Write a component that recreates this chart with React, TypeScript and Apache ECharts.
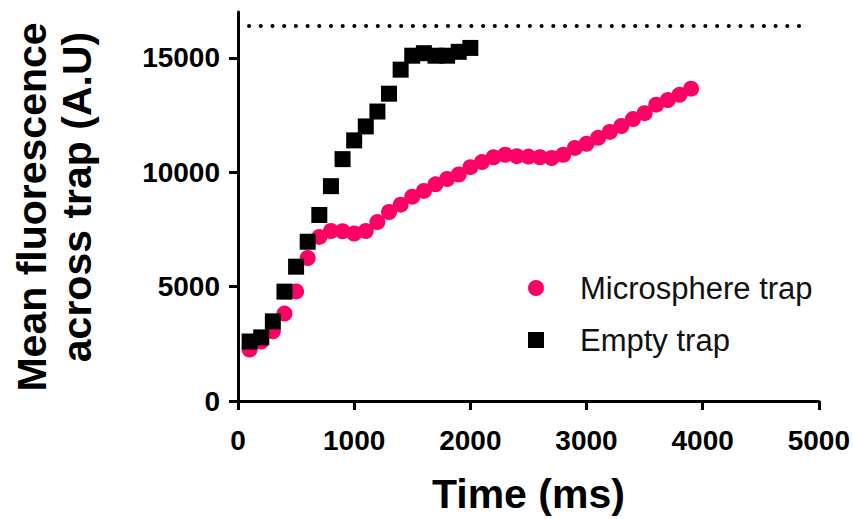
import React, { useEffect, useRef } from "react";
import * as echarts from "echarts";

const timeMicro = [100, 200, 300, 400, 500, 600, 700, 800, 900, 1000, 1100, 1200, 1300, 1400, 1500, 1600, 1700, 1800, 1900, 2000, 2100, 2200, 2300, 2400, 2500, 2600, 2700, 2800, 2900, 3000, 3100, 3200, 3300, 3400, 3500, 3600, 3700, 3800, 3900];
const microsphere = [2250, 2600, 3050, 3820, 4790, 6250, 7170, 7430, 7420, 7320, 7430, 7820, 8260, 8580, 8930, 9180, 9470, 9700, 9900, 10220, 10440, 10650, 10760, 10700, 10680, 10650, 10620, 10760, 11060, 11240, 11500, 11760, 12020, 12320, 12580, 12950, 13150, 13380, 13650];
const timeEmpty = [100, 200, 300, 400, 500, 600, 700, 800, 900, 1000, 1100, 1200, 1300, 1400, 1500, 1600, 1700, 1800, 1900, 2000];
const emptyTrap = [2600, 2780, 3480, 4780, 5870, 6960, 8130, 9390, 10570, 11390, 12000, 12650, 13430, 14480, 15090, 15200, 15090, 15090, 15260, 15430];
const saturation = 16383;
const saturationStart = 95;
const saturationEnd = 4885;
const yTicks = [0, 5000, 10000, 15000];
const xTicks = [0, 1000, 2000, 3000, 4000, 5000];

const FONT = "'Liberation Sans', Arial, Helvetica, sans-serif";

export default function App() {
  const ref = useRef<HTMLDivElement>(null);
  useEffect(() => {
    if (!ref.current) return;
    const chart = echarts.init(ref.current, null, { renderer: "svg" });
    const axisCommon = {
      axisLine: { show: true, lineStyle: { color: "#000", width: 3 } },
      axisTick: { show: true, length: 9, lineStyle: { color: "#000", width: 3 } },
      splitLine: { show: false },
    };
    const plain = (v: number) => String(v);
    chart.setOption({
      animation: false,
      backgroundColor: "#fff",
      textStyle: { fontFamily: FONT },
      grid: { left: 238, right: 32, top: 12, bottom: 116 },
      legend: {
        orient: "vertical",
        left: 528,
        top: 272,
        padding: 0,
        itemWidth: 16,
        itemHeight: 16,
        itemGap: 20,
        textStyle: { fontSize: 31, color: "#111", fontFamily: FONT, padding: [0, 0, 0, 31], lineHeight: 32 },
        data: [
          { name: "Microsphere trap", icon: "circle" },
          { name: "Empty trap", icon: "rect" },
        ],
      },
      xAxis: {
        type: "value",
        min: 0,
        max: 5000,
        interval: 1000,
        ...axisCommon,
        axisTick: { ...axisCommon.axisTick, customValues: xTicks },
        axisLabel: { customValues: xTicks, formatter: plain, fontSize: 28, fontWeight: "bold", color: "#000", margin: 25, fontFamily: FONT },
        name: "Time (ms)",
        nameLocation: "middle",
        nameGap: 72,
        nameTextStyle: { fontSize: 41, fontWeight: "bold", color: "#000", fontFamily: FONT },
      },
      yAxis: {
        type: "value",
        min: 0,
        max: 17000,
        ...axisCommon,
        axisTick: { ...axisCommon.axisTick, customValues: yTicks },
        axisLabel: { customValues: yTicks, formatter: plain, fontSize: 28, fontWeight: "bold", color: "#000", margin: 18, fontFamily: FONT },
      },
      graphic: [
        {
          type: "text",
          x: 32,
          y: 207,
          rotation: Math.PI / 2,
          style: {
            text: "Mean fluorescence",
            fontSize: 41,
            fontWeight: "bold",
            fontFamily: FONT,
            fill: "#000",
            align: "center",
            verticalAlign: "middle",
          },
        },
        {
          type: "text",
          x: 77,
          y: 197,
          rotation: Math.PI / 2,
          style: {
            text: "across trap (A.U)",
            fontSize: 41,
            fontWeight: "bold",
            fontFamily: FONT,
            fill: "#000",
            align: "center",
            verticalAlign: "middle",
          },
        },
      ],
      series: [
        {
          name: "Microsphere trap",
          type: "scatter",
          symbol: "circle",
          symbolSize: 16,
          itemStyle: { color: "#ff0066", opacity: 1 },
          data: timeMicro.map((t, i) => [t, microsphere[i]]),
          markLine: {
            silent: true,
            symbol: "none",
            label: { show: false },
            lineStyle: { color: "#000", width: 4, type: [0.1, 11.6], cap: "round" },
            data: [[{ coord: [saturationStart, saturation] }, { coord: [saturationEnd, saturation] }]],
          },
        },
        {
          name: "Empty trap",
          type: "scatter",
          symbol: "rect",
          symbolSize: 16,
          itemStyle: { color: "#000", opacity: 1 },
          data: timeEmpty.map((t, i) => [t, emptyTrap[i]]),
        },
      ],
    });
    return () => chart.dispose();
  }, []);
  return <div ref={ref} style={{ position: "absolute", left: 0, top: 0, width: 853, height: 519 }} />;
}
